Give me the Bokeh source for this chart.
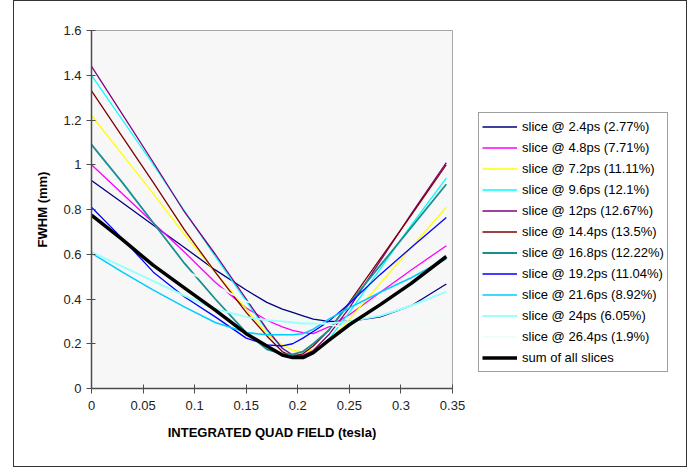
from bokeh.plotting import figure
from bokeh.layouts import row
from bokeh.models import Range1d, FixedTicker, Legend, LegendItem
from bokeh.embed import file_html
from bokeh.resources import INLINE

# ---------------- data ----------------
quad_field = [0, 0.03, 0.06, 0.09, 0.12, 0.15, 0.17, 0.185, 0.195, 0.205, 0.215, 0.23, 0.25, 0.28, 0.31, 0.344]

slice_2_4 = [0.93, 0.83, 0.73, 0.63, 0.53, 0.44, 0.385, 0.355, 0.34, 0.325, 0.31, 0.30, 0.30, 0.32, 0.37, 0.467]
slice_4_8 = [1.0, 0.87, 0.74, 0.61, 0.475, 0.36, 0.305, 0.275, 0.26, 0.25, 0.245, 0.275, 0.33, 0.43, 0.53, 0.638]
slice_7_2 = [1.22, 1.045, 0.87, 0.69, 0.52, 0.355, 0.245, 0.195, 0.172, 0.163, 0.175, 0.21, 0.31, 0.47, 0.63, 0.81]
slice_9_6 = [1.40, 1.20, 1.00, 0.795, 0.59, 0.39, 0.26, 0.18, 0.148, 0.138, 0.155, 0.22, 0.34, 0.535, 0.73, 0.94]
slice_12 = [1.44, 1.225, 1.01, 0.79, 0.60, 0.40, 0.265, 0.18, 0.15, 0.148, 0.17, 0.24, 0.36, 0.57, 0.78, 1.01]
slice_14_4 = [1.33, 1.125, 0.92, 0.71, 0.52, 0.34, 0.235, 0.165, 0.143, 0.155, 0.19, 0.26, 0.385, 0.58, 0.775, 1.0]
slice_16_8 = [1.09, 0.92, 0.74, 0.56, 0.40, 0.25, 0.175, 0.155, 0.152, 0.165, 0.20, 0.26, 0.38, 0.55, 0.72, 0.913]
slice_19_2 = [0.81, 0.67, 0.52, 0.41, 0.32, 0.225, 0.195, 0.19, 0.20, 0.225, 0.255, 0.30, 0.38, 0.51, 0.63, 0.764]
slice_21_6 = [0.605, 0.52, 0.44, 0.365, 0.295, 0.25, 0.24, 0.24, 0.24, 0.245, 0.265, 0.31, 0.36, 0.43, 0.495, 0.58]
slice_24 = [0.61, 0.545, 0.48, 0.415, 0.355, 0.32, 0.305, 0.30, 0.295, 0.29, 0.29, 0.29, 0.30, 0.325, 0.37, 0.433]
slice_26_4 = [0.72, 0.66, 0.60, 0.53, 0.46, 0.39, 0.355, 0.335, 0.32, 0.31, 0.30, 0.285, 0.27, 0.265, 0.285, 0.33]
sum_all = [0.775, 0.665, 0.55, 0.45, 0.35, 0.245, 0.19, 0.15, 0.138, 0.138, 0.16, 0.215, 0.285, 0.375, 0.47, 0.59]

series_labels = [
    "slice @ 2.4ps (2.77%)", "slice @ 4.8ps (7.71%)", "slice @ 7.2ps (11.11%)",
    "slice @ 9.6ps (12.1%)", "slice @ 12ps (12.67%)", "slice @ 14.4ps (13.5%)",
    "slice @ 16.8ps (12.22%)", "slice @ 19.2ps (11.04%)", "slice @ 21.6ps (8.92%)",
    "slice @ 24ps (6.05%)", "slice @ 26.4ps (1.9%)", "sum of all slices",
]
series_values = [slice_2_4, slice_4_8, slice_7_2, slice_9_6, slice_12, slice_14_4,
                 slice_16_8, slice_19_2, slice_21_6, slice_24, slice_26_4, sum_all]

x_ticks = [0, 0.05, 0.1, 0.15, 0.2, 0.25, 0.3, 0.35]
x_tick_labels = ["0", "0.05", "0.1", "0.15", "0.2", "0.25", "0.3", "0.35"]
y_ticks = [0, 0.2, 0.4, 0.6, 0.8, 1.0, 1.2, 1.4, 1.6]
y_tick_labels = ["0", "0.2", "0.4", "0.6", "0.8", "1", "1.2", "1.4", "1.6"]

# ---------------- styles ----------------
colors = ["#000080", "#FF00FF", "#FFFF00", "#00FFFF", "#800080", "#800000",
          "#1A8F8F", "#0000FF", "#00CCFF", "#99FFFF", "#EAFFF2", "#000000"]
widths = [1.3, 1.3, 1.3, 1.3, 1.3, 1.3, 1.8, 1.3, 1.5, 2.0, 1.5, 3.5]

FONT = "Liberation Sans"

# main chart: spans page x 13..470
p = figure(width=457, height=467, output_backend="svg", toolbar_location=None,
           x_range=Range1d(0, 0.35), y_range=Range1d(0, 1.6),
           min_border_left=78, min_border_right=18, min_border_top=30, min_border_bottom=79)

p.background_fill_color = "#F7F7F7"
p.border_fill_color = None
p.outline_line_color = "#A6A6A6"
p.outline_line_width = 1
p.grid.visible = False

for ax in (p.xaxis, p.yaxis):
    ax.axis_line_color = "#4D4D4D"
    ax.axis_line_width = 1.5
    ax.major_tick_line_color = "#4D4D4D"
    ax.major_tick_in = 4
    ax.major_tick_out = 5
    ax.minor_tick_line_color = None
    ax.major_label_text_font = FONT
    ax.major_label_text_font_size = "13px"
    ax.major_label_text_color = "#222222"
    ax.axis_label_text_font = FONT
    ax.axis_label_text_font_size = "13px"
    ax.axis_label_text_font_style = "bold"
    ax.axis_label_text_color = "#000000"

p.xaxis.ticker = FixedTicker(ticks=x_ticks)
p.xaxis.major_label_overrides = dict(zip(x_ticks, x_tick_labels))
p.yaxis.ticker = FixedTicker(ticks=y_ticks)
p.yaxis.major_label_overrides = dict(zip(y_ticks, y_tick_labels))
p.xaxis.major_label_standoff = 7
p.yaxis.major_label_standoff = 5
p.xaxis.axis_label = "INTEGRATED QUAD FIELD (tesla)"
p.yaxis.axis_label = "FWHM (mm)"
p.xaxis.axis_label_standoff = 12
p.yaxis.axis_label_standoff = 10

for vals, c, w in zip(series_values, colors, widths):
    p.line(quad_field, vals, line_color=c, line_width=w)

# legend panel: spans page x 470..687 (its frame is aligned with the chart frame)
# the same series are attached here only to feed the legend; they fall outside this panel's range
pl = figure(width=217, height=467, output_backend="svg", toolbar_location=None,
            x_range=Range1d(1, 2), y_range=Range1d(0, 1.6),
            x_axis_location=None, y_axis_location=None,
            min_border_left=0, min_border_right=0, min_border_top=0, min_border_bottom=0)
pl.outline_line_color = None
pl.background_fill_color = None
pl.border_fill_color = None
pl.grid.visible = False

items = []
for lab, vals, c, w in zip(series_labels, series_values, colors, widths):
    r = pl.line(quad_field, vals, line_color=c, line_width=w)
    items.append(LegendItem(label=lab, renderers=[r]))

legend = Legend(items=items, location=(8, 16))
legend.label_text_font = FONT
legend.label_text_font_size = "13px"
legend.label_text_color = "#000000"
legend.glyph_width = 35
legend.glyph_height = 21
legend.label_height = 21
legend.label_standoff = 5
legend.padding = 3
legend.spacing = 0
legend.margin = 0
legend.border_line_color = "#404040"
legend.border_line_width = 1
legend.background_fill_color = "white"
legend.background_fill_alpha = 1
pl.add_layout(legend)

layout = row(p, pl, margin=(0, 0, 0, 13),
             styles={"outline": "1px solid #333333", "outline-offset": "-1px"})

open("out.html", "w").write(file_html(layout, INLINE))
